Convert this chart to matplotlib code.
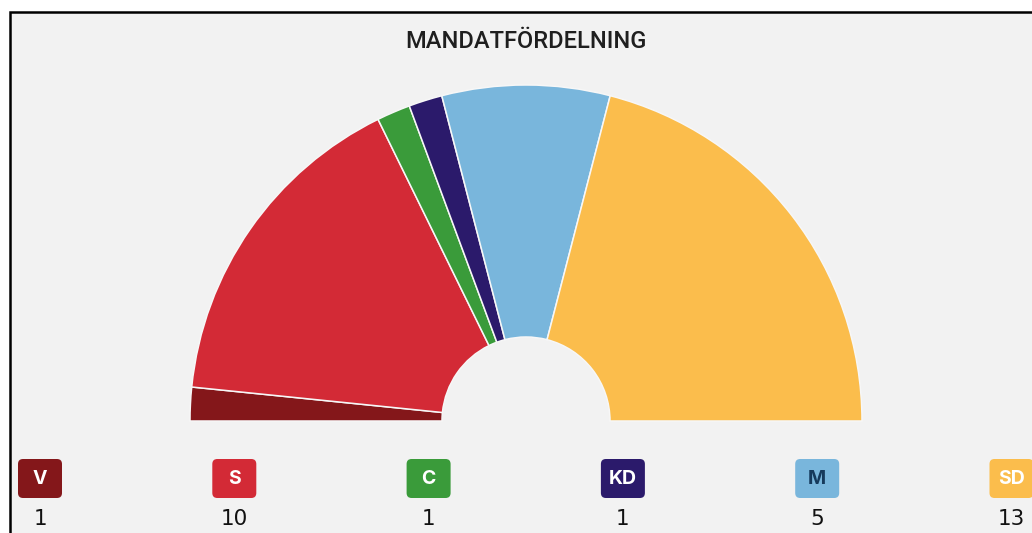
import matplotlib
matplotlib.use("Agg")
import matplotlib.pyplot as plt
from matplotlib.patches import Rectangle, FancyBboxPatch

# mandat per parti
parties = ["V", "S", "C", "KD", "M", "SD"]
seats = [1, 10, 1, 1, 5, 13]
colors = ["#84171a", "#d32a36", "#3a9b3a", "#2b1a6b", "#79b6dc", "#fbbd4c"]
label_colors = ["white", "white", "white", "white", "#163a5c", "white"]

W, H = 1032, 533
fig = plt.figure(figsize=(W / 100, H / 100), dpi=100, facecolor="white")
ax = fig.add_axes([0, 0, 1, 1])

# ram och bakgrund
ax.add_patch(Rectangle((10, -20), 1100, H - 12 + 20, facecolor="#f2f2f2",
                       edgecolor="black", linewidth=1.8, zorder=0))

ax.text(526, H - 42, "MANDATFÖRDELNING", ha="center", va="center",
        fontsize=17, fontfamily="Roboto", fontweight="medium", color="#1f1f1f")

# halvcirkel: en osynlig kil fyller den nedre halvan
total = sum(seats)
wedges, _ = ax.pie(seats + [total], colors=colors + ["none"], startangle=180,
                   counterclock=False, center=(526, H - 421), radius=336,
                   wedgeprops=dict(width=252, edgecolor="#f7f7f7", linewidth=1.1),
                   frame=True)
wedges[-1].set_visible(False)
ax.set_xlim(0, W)
ax.set_ylim(0, H)
ax.set_aspect("equal")
ax.axis("off")

# teckenförklaring
for i, (p, s, c, lc) in enumerate(zip(parties, seats, colors, label_colors)):
    cx = 40 + i * 194.3
    ax.add_patch(FancyBboxPatch((cx - 22, H - 498), 44, 39,
                                boxstyle="round,pad=0,rounding_size=5",
                                facecolor=c, edgecolor="none"))
    ax.text(cx, H - 479, p, ha="center", va="center", fontsize=14,
            fontfamily="Inter", fontweight="bold", color=lc)
    ax.text(cx, H - 519, str(s), ha="center", va="center", fontsize=15.5,
            color="#111111")

fig.savefig("out.png", dpi=100, facecolor="white")
